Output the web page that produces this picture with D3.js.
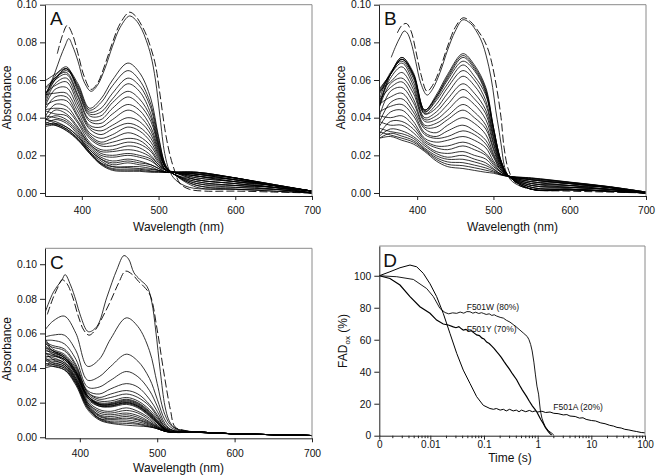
<!DOCTYPE html>
<html><head><meta charset="utf-8">
<script src="https://cdn.jsdelivr.net/npm/d3@7"></script>
<style>
body{margin:0;background:#fff}
text{font-family:"Liberation Sans",Arial,Helvetica,sans-serif;fill:#111}
</style>
</head><body>
<svg id="chart" width="656" height="475"></svg>
<script>
// ---------------- DATA ----------------
// Spectra: absorbance in milli-absorbance units (mAU) at the listed wavelengths (nm)
const wlAB = [350,365,380,395,410,425,440,460,475,490,500,510,520,550,600,650,700];
const wlC  = [355,365,380,395,410,425,440,460,475,490,500,510,520,550,600,650,700];

const spectraA_mAU = [
 [51,60,66,58,45,50,60,69,64,50,30,14,10,3,2,1,0],
 [47,60,65,57,44,48,57,65,60,47,29,14,10,4,2,2,0],
 [55,61,66,56,43,45,53,61,57,45,27,14,10,4,3,2,0],
 [48,62,67,55,42,43,50,58,54,42,26,13,10,5,3,2,0],
 [59,63,66,54,41,41,48,54,50,40,25,13,10,5,4,2,0],
 [50,61,64,52,39,39,45,51,47,38,24,13,10,6,4,3,0],
 [54,60,63,51,38,37,42,47,44,35,23,13,10,6,4,3,0],
 [45,58,61,49,36,35,39,44,41,33,22,13,10,7,5,3,0],
 [52,57,59,47,35,33,36,40,38,31,21,13,11,7,5,3,1],
 [44,55,56,45,34,31,34,37,35,29,20,12,11,7,5,3,1],
 [52,53,53,43,32,29,31,35,33,27,19,12,11,8,6,3,1],
 [43,51,51,41,31,27,29,32,30,25,18,12,11,8,6,4,1],
 [46,49,49,40,30,26,27,29,28,23,17,12,11,9,6,4,1],
 [39,47,46,38,29,25,25,27,26,22,16,12,11,9,6,4,1],
 [44,45,44,37,27,23,23,25,24,20,15,12,11,9,7,4,1],
 [37,44,42,35,26,22,22,23,22,19,15,12,11,9,7,4,1],
 [44,42,41,34,26,21,20,21,20,18,14,12,11,10,7,4,1],
 [38,41,39,33,25,20,19,20,19,17,14,11,11,10,7,4,1],
 [41,40,38,32,24,19,17,18,17,15,13,11,11,10,7,4,1],
 [36,39,37,31,23,18,16,17,16,15,13,11,11,10,8,4,1],
 [39,38,35,30,23,18,15,16,15,14,12,11,11,10,8,4,1],
 [36,37,35,30,22,17,14,14,14,13,12,11,11,11,8,4,1],
 [40,37,34,29,22,16,14,13.5,13,12.5,12,11,11,10.7,7.8,4.4,1],
 [36,36.5,34,28.6,21.5,15.7,13,12.7,12.6,11.8,11.4,11,11,10.8,7.9,4.5,1],
 [38,36,33.3,28.3,21.2,15.4,12.5,12.1,12,11.4,11.2,11,11,11,8,4.5,1],
 [35,36,33,28,21,15,12,11.5,11.5,11,11,11,11,11,8,4.5,0.8]
];
const topA_wl  = [358,365,372,378,383,388,395,403,412,420,430,440,450,462,470,478,484,490,496,502,508,514,522,540,600,650,700];
const topA_mAU = [57,64,72,78,82,78,70,59,54,57,66,78,88,94,92,87,81,73,60,40,21,12,7,3,2,1,0];
const dashA_wl  = [368,375,381,388,395,403,412,420,430,440,450,462,470,478,484,490,496,502,509,515,520,528,540,560,600,650,700];
const dashA_mAU = [74,84,89,84,74,62,55,58,68,80,90,96,94,89,84,77,68,52,32,20,13,5,2,1,1,0.5,0];

const spectraB_mAU = [
 [52,63,72,64,44,52,63,74,68,56,35,17,9,2,1.5,1,0],
 [47,63,72,63,44,51,62,73,67,55,35,17,9,2,2,1,0],
 [53,63,71,63,44,51,61,72,66,54,34,17,9,2,2,1,0],
 [45,63,71,63,43,50,60,70,65,53,34,17,9,2,2,1,0],
 [55,63,71,62,43,49,58,68,62,52,33,16,9,3,2,1,0],
 [49,64,70,61,42,47,56,65,60,49,31,16,9,3,2,1,0],
 [54,63,69,59,42,45,53,62,57,47,30,16,9,3,2,2,0],
 [46,61,67,57,40,43,50,58,53,44,29,15,9,4,3,2,0],
 [54,59,64,55,39,41,47,55,50,42,27,15,9,4,3,2,0],
 [45,58,61,53,38,39,44,51,47,39,26,14,9,4,3,2,0],
 [49,56,59,50,36,37,41,47,43,36,24,14,9,5,3,2,0],
 [40,54,56,48,35,35,39,44,40,34,23,13,9,5,4,2,0],
 [47,51,53,45,34,32,36,40,37,31,21,13,9,5,4,2,0],
 [37,48,50,43,32,30,33,36,33,28,20,12,9,6,4,3,0],
 [43,46,47,41,31,29,30,33,31,26,19,12,9,6,4,3,0],
 [35,43,44,38,29,27,28,30,28,24,17,12,9,6,5,3,0],
 [41,40,41,36,28,25,25,27,25,21,16,11,9,7,5,3,0],
 [31,38,38,34,27,24,23,25,23,20,15,11,9,7,5,3,0],
 [38,36,36,32,26,22,21,22,20,18,14,11,9,7,5,3,0],
 [30,34,33,30,25,21,19,20,18,16,13,10,9,7,5,3,0],
 [34.5,32.6,31.5,29,23.8,19.8,17.9,17.9,16.5,14.6,12.5,10.1,8.8,7.5,5.5,3.3,0.5],
 [29,31.7,30.2,27.9,23.1,18.8,16.5,16.1,14.8,13.3,11.7,9.9,8.8,7.7,5.6,3.4,0.5],
 [32.5,30.8,29.1,27,22.6,17.9,15.2,14.5,13.4,12.1,11.1,9.7,8.8,7.9,5.7,3.4,0.5],
 [29,30,28,26,22,17,14,13,12,11,10.5,9.5,8.8,8,5.8,3.5,0.5]
];
const topB_wl  = [366,372,378,383,387,392,398,405,413,420,430,440,450,460,470,479,486,494,499,503,507,510,516,525,550,600,650,700];
const topB_mAU = [72,78,83,86,85,80,70,58,52,55,64,76,86,92,90,85,79,67,56,44,34,26,12,6,2,1.5,1,0];
const dashB_wl  = [374,380,386,392,398,405,413,420,430,440,450,460,470,480,488,494,499,505,510,514,520,530,550,600,650,700];
const dashB_mAU = [85,89,90,86,76,63,54,57,66,78,88,93,91,86,81,75,67,54,40,24,12,5,2,1,0.5,0];

const spectraC_mAU = [
 [62,67,70,60,41,45,57,69,64,50,31,13,6,3,2,1.5,1],
 [58,59,59,50,33,35,41,48,44,34,22,10,5,3,2,1.5,1],
 [56,56,54,45,29,29,33,38,35,27,18,8,4,3,2,1.5,1],
 [55,53,51,42,27,25,28,31,29,22,15,7,4,3,2,1.5,1],
 [54,52,50,41,26,23,25,27,25,19,13,6,4,3,2,1.5,1],
 [57,51,48,40,26,22,23,25,23,18,12,6,3.5,3,2,1.5,1],
 [52,50,47,39,25,21,21,23,21,16,11,5.5,3.5,3,2,1.5,1],
 [53,50,47,38,24,20,20,22,20,15,10,5,3,3,2,1.5,1],
 [50,49,46,38,24,19.5,19.5,21.5,19.5,14.5,9.5,5,3,3,2,1.5,1],
 [55,50,46,37,24,19,19,21,19,14,9,5,3,3,2,1.5,1],
 [48,48,45,37,23,19,19,20.5,18.5,13.5,9,4.5,3,3,2,1.5,1],
 [52,49,46,38,24,19,18.5,20,18,13,8.5,4.5,3,3,2,1.5,1],
 [46,47,45,37,23,18.5,18,20,18,13,8.5,4.5,3,3,2,1.5,1],
 [51,48,44,36,22,18,18,19.5,17.5,12.5,8,4.5,3,3,2,1.5,1],
 [49,47,45,36,23,18,17.5,19,17,12,8,4,3,3,2,1.5,1],
 [47,46,43,35,21,16,15,17,15,11,7,4,3,3,2,1.5,1],
 [45,45,43,34,20,15,14,15.5,14,10,6.5,4,3,3,2,1.5,1],
 [49,45,42,34,20,14,13,14,12.5,9,6,3.5,3,3,2,1.5,1],
 [44,44,42,33,19,13,12,13,11.5,8.5,6,3.5,3,3,2,1.5,1],
 [46,43,41,33,19,12.5,11,12,10.5,8,5.5,3.5,3,3,2,1.5,1],
 [42,43,41,32,18,12,10.5,11,10,7.5,5.5,3.5,3,3,2,1.5,1],
 [45,42,40,32,18,11,10,10,9,7,5,3.5,3,3,2,1.5,1],
 [41,42,40,31,17,11,9,9,8,6.5,5,3.5,3,3,2,1.5,1],
 [43,41,39,31,17,10.5,8.5,8,7.5,6,5,3.5,3,3,2,1.5,1],
 [40,41,39,30,16,10,8,7,6.5,6,5,3.5,3,3,2,1.5,1]
];
const topC_wl  = [355,366,377,381,388,395,401,411,422,435,448,457,463,470,478,487,493,498,504,510,515,521,530,550,600,650,700];
const topC_mAU = [72,84,91,94,88,79,70,61,64,81,97,105,103,95,91,87,78,62,38,18,10,6,4,3,2,1.5,1];
const dashC_wl  = [358,365,372,377,383,390,398,405,412,420,430,440,450,459,468,476,483,491,500,508,517,523,535,550,600,650,700];
const dashC_mAU = [71,80,87,91,89,82,70,62,59,62,70,79,89,96,94,90,87,82,62,39,16,6,4,3,2,1.5,1];

// Kinetic traces (panel D): time (s) and FADox (%)
const tW = [0.00112,0.00236,0.00482,0.00855,0.01136,0.0151,0.0188,0.022,0.026,0.031,0.036,0.042,0.048,0.0548,0.062,0.07,0.08,0.09,0.097,0.11,0.125,0.14,0.155,0.172,0.2,0.23,0.26,0.305,0.35,0.4,0.469,0.55,0.64,0.69,0.74,0.79,0.85,0.91,0.97,1.04,1.12,1.2,1.29,1.39,1.6,1.84,2.0];
const vW = [100,99.4,97.7,92,87,79.6,77,76.2,76.8,76.5,77.3,76.6,77.6,77.5,76.6,77.2,76.4,76.9,76.5,75.8,76.2,75.2,75.6,74.8,74,73.5,72.2,71,69.5,68,66,64,62,60,57,53,46,38,31,26,16,11,8,5.5,3,1.5,0.4];
const tY = [0.00112,0.00177,0.00272,0.00418,0.0064,0.00986,0.0131,0.0174,0.0216,0.0268,0.03,0.034,0.038,0.0411,0.046,0.052,0.058,0.065,0.073,0.082,0.092,0.1,0.112,0.125,0.14,0.155,0.172,0.19,0.21,0.235,0.265,0.3,0.34,0.406,0.46,0.52,0.57,0.624,0.7,0.8,0.9,0.96,1.05,1.15,1.27,1.4,1.58,1.7,1.82];
const vY = [100,98.3,94.2,86.9,80.6,76.5,72.3,69.8,69.2,68,67.5,68.2,66.8,66,66.5,65.2,65.6,64.3,63,62.6,61,60.5,58.5,57.6,56,54.5,52.5,50.8,49,46.5,44,41.5,38.6,35,31.5,28.5,26.5,24.4,21.5,18.5,16.3,15,12.5,10,7.7,5,2.5,1.3,0.4];
const tA = [0.00112,0.00177,0.00272,0.00418,0.00557,0.0074,0.00986,0.0131,0.0174,0.0232,0.031,0.0411,0.0548,0.073,0.097,0.129,0.15,0.17,0.2,0.23,0.26,0.3,0.35,0.4,0.45,0.5,0.6,0.7,0.8,0.9,1.0,1.2,1.4,1.7,2,2.4,3,3.5,4,5,6,7,8,10,12,15,18,22,26,30,36,42,50,60,70,85,100];
const vA = [100,102.5,105,106.7,105.6,101.5,95,87,76.5,64,51.5,41,32.7,24.4,19,17,16.5,17,16,16.5,15.5,16.5,15.5,16,15,16,15,15.8,15,15.5,14.8,15.3,14.5,14.8,14,13.8,13,13.2,12.3,12,11,11.2,10.2,9.5,9.2,8,7.5,6.5,6,5.2,4.8,4,3.6,3,2.6,2,1.8];
const traceNames = ["F501W (80%)","F501Y (70%)","F501A (20%)"];

// Tick labels
const specYTicks = [0,0.02,0.04,0.06,0.08,0.10];
const specYTickLabels = ["0.00","0.02","0.04","0.06","0.08","0.10"];
const wlTicks = [400,500,600,700];
const wlTickLabels = ["400","500","600","700"];
const dYTicks = [0,20,40,60,80,100];
const dYTickLabels = ["0","20","40","60","80","100"];
const dXTicks = [0.00112,0.01,0.1,1,10,100];
const dXTickLabels = ["0","0.01","0.1","1","10","100"];
const panelLetters = ["A","B","C","D"];

// ---------------- DRAWING ----------------
const svg = d3.select("#chart");
const FS_TICK = 10.3, FS_LAB = 12;

function frame(g, L, R, T, B){
  g.append("line").attr("x1",L).attr("x2",R).attr("y1",T).attr("y2",T).attr("stroke","#8a8a8a").attr("stroke-width",1);
  g.append("line").attr("x1",R).attr("x2",R).attr("y1",T).attr("y2",B).attr("stroke","#8a8a8a").attr("stroke-width",1);
}
function styleAxis(a, fs){
  a.selectAll("path,line").attr("stroke","#222").attr("stroke-width",1);
  a.selectAll("text").attr("font-size",fs||FS_TICK).attr("fill","#111")
   .style("font-family",'"Liberation Sans",Arial,sans-serif');
}

function spectraPanel(idx, L, R, T, B, xd, yd, rows, wl, top, dash, labelY, xLabelY){
  const g = svg.append("g");
  const x = d3.scaleLinear().domain(xd).range([L,R]);
  const y = d3.scaleLinear().domain(yd).range([B,T]);
  const cid = "clip"+idx;
  svg.append("clipPath").attr("id",cid).append("rect").attr("x",L).attr("y",T).attr("width",R-L).attr("height",B-T);
  const line = d3.line().x(d=>x(d[0])).y(d=>y(d[1]/1000)).curve(d3.curveCatmullRom.alpha(0.5));
  const dg = g.append("g").attr("clip-path",`url(#${cid})`);
  rows.forEach(r=>{
    dg.append("path").attr("d",line(wl.map((w,i)=>[w,r[i]]))).attr("fill","none").attr("stroke","#000").attr("stroke-width",0.8);
  });
  dg.append("path").attr("d",line(top[0].map((w,i)=>[w,top[1][i]]))).attr("fill","none").attr("stroke","#000").attr("stroke-width",0.8);
  dg.append("path").attr("d",line(dash[0].map((w,i)=>[w,dash[1][i]]))).attr("fill","none").attr("stroke","#000").attr("stroke-width",0.9).attr("stroke-dasharray","8,3");
  frame(g,L,R,T,B);
  const ax = g.append("g").attr("transform",`translate(0,${B})`)
    .call(d3.axisBottom(x).tickValues(wlTicks).tickFormat((d,i)=>wlTickLabels[i]).tickSize(4).tickPadding(7).tickSizeOuter(0));
  styleAxis(ax);
  const ay = g.append("g").attr("transform",`translate(${L},0)`)
    .call(d3.axisLeft(y).tickValues(specYTicks).tickFormat((d,i)=>specYTickLabels[i]).tickSize(5).tickPadding(3).tickSizeOuter(0));
  styleAxis(ay);
  g.append("text").attr("x",(L+R)/2).attr("y",xLabelY).attr("text-anchor","middle").attr("font-size",FS_LAB).text("Wavelength (nm)");
  g.append("text").attr("transform",`translate(${L-34.5},${labelY}) rotate(-90)`).attr("text-anchor","middle").attr("font-size",FS_LAB).text("Absorbance");
  g.append("text").attr("x",L+5).attr("y",T+20.5).attr("font-size",19).text(panelLetters[idx]);
}

spectraPanel(0, 45, 312, 4.7, 196, [352,700], [-0.0016,0.10], spectraA_mAU, wlAB, [topA_wl,topA_mAU], [dashA_wl,dashA_mAU], 97.5, 231);
spectraPanel(1, 379, 646, 4.7, 196, [350,700], [-0.0016,0.10], spectraB_mAU, wlAB, [topB_wl,topB_mAU], [dashB_wl,dashB_mAU], 97.5, 231);
spectraPanel(2, 45, 312, 248.3, 438.3, [355,700], [-0.0006,0.1092], spectraC_mAU, wlC, [topC_wl,topC_mAU], [dashC_wl,dashC_mAU], 349, 472);

// Panel D
(function(){
  const L=379.3, R=645, T=246, B=435.7;
  const g = svg.append("g");
  const x = d3.scaleLog().domain([0.00112,100]).range([L,R]);
  const y = d3.scaleLinear().domain([0,118.6]).range([B,T]);
  svg.append("clipPath").attr("id","clip3").append("rect").attr("x",L).attr("y",T).attr("width",R-L).attr("height",B-T);
  const line = d3.line().x(d=>x(d[0])).y(d=>y(d[1])).curve(d3.curveLinear);
  const dg = g.append("g").attr("clip-path","url(#clip3)");
  [[tW,vW,0.9],[tY,vY,1.2],[tA,vA,1.0]].forEach(([t,v,w])=>{
    dg.append("path").attr("d",line(t.map((ti,i)=>[ti,v[i]]))).attr("fill","none").attr("stroke","#000").attr("stroke-width",w);
  });
  frame(g,L,R,T,B);
  // minor ticks
  const minor = [];
  [0.001,0.01,0.1,1,10].forEach(dec=>{ for(let k=2;k<=9;k++){ const v=dec*k; if(v>0.00112) minor.push(v);} });
  g.append("g").selectAll("line").data(minor).join("line")
    .attr("x1",d=>x(d)).attr("x2",d=>x(d)).attr("y1",B).attr("y2",B+2.5).attr("stroke","#222").attr("stroke-width",1);
  const ax = g.append("g").attr("transform",`translate(0,${B})`)
    .call(d3.axisBottom(x).tickValues(dXTicks).tickFormat((d,i)=>dXTickLabels[i]).tickSize(4).tickPadding(1.5).tickSizeOuter(0));
  styleAxis(ax, 10);
  const ay = g.append("g").attr("transform",`translate(${L},0)`)
    .call(d3.axisLeft(y).tickValues(dYTicks).tickFormat((d,i)=>dYTickLabels[i]).tickSize(5).tickPadding(3).tickSizeOuter(0));
  styleAxis(ay, 10.3);
  g.append("text").attr("x",510).attr("y",461.5).attr("text-anchor","middle").attr("font-size",FS_LAB).text("Time (s)");
  const yl = g.append("text").attr("transform",`translate(347,341) rotate(-90)`).attr("text-anchor","middle").attr("font-size",FS_LAB);
  yl.append("tspan").text("FAD");
  yl.append("tspan").attr("font-size",8).attr("dy",3).text("ox");
  yl.append("tspan").attr("dy",-3).text(" (%)");
  g.append("text").attr("x",L+4).attr("y",T+20.5).attr("font-size",19).text(panelLetters[3]);
  const lab = [[466.7,310],[466.7,331.7],[553.3,410]];
  traceNames.forEach((n,i)=>{
    g.append("text").attr("x",lab[i][0]).attr("y",lab[i][1]).attr("font-size",8.5).text(n);
  });
})();
</script>
</body></html>
